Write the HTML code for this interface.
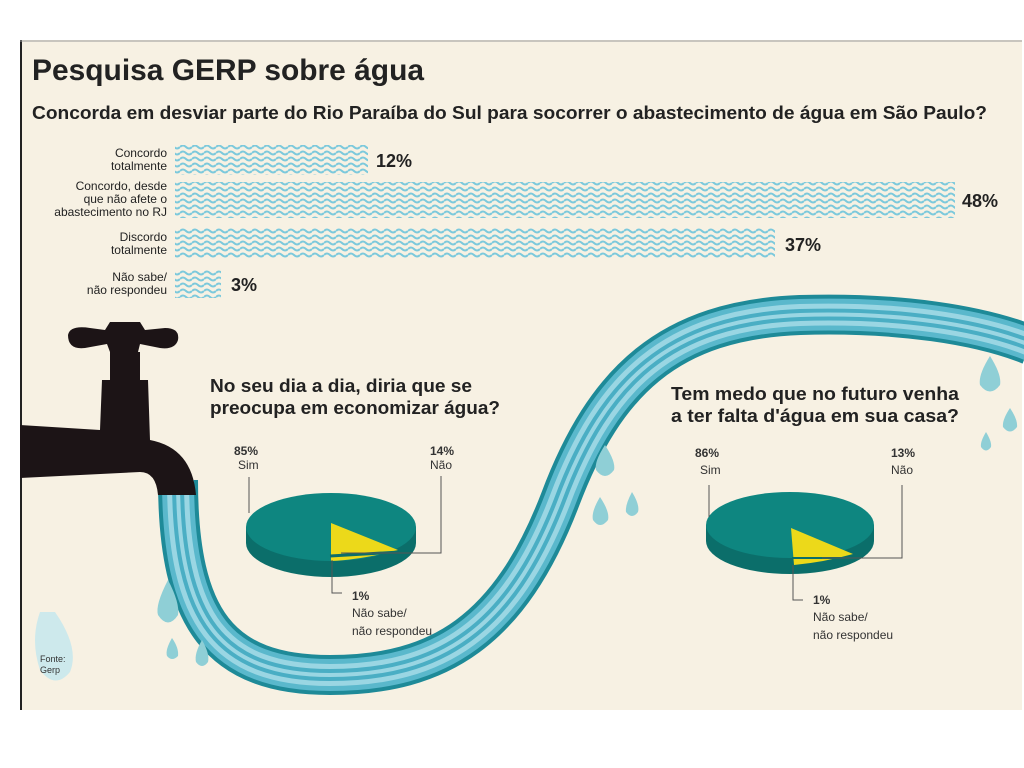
<!DOCTYPE html>
<html><head><meta charset="utf-8"><style>
body{margin:0;background:#fff;}
svg{display:block}
text{font-family:"Liberation Sans",sans-serif;}
</style></head><body>
<svg width="1024" height="768" viewBox="0 0 1024 768" xmlns="http://www.w3.org/2000/svg">
<defs>
<pattern id="wv" width="12" height="6" patternUnits="userSpaceOnUse">
<rect width="12" height="6" fill="#f7f1e3"/>
<path d="M0 3 Q3 0 6 3 T12 3" stroke="#7cc9dc" stroke-width="2" fill="none"/>
</pattern>
</defs>
<rect x="20" y="40" width="1002" height="670" fill="#f7f1e3"/>
<line x1="21" y1="40" x2="21" y2="710" stroke="#222" stroke-width="2"/>
<line x1="20" y1="41" x2="1022" y2="41" stroke="#999" stroke-width="1"/>
<text x="32" y="80" font-size="30" font-weight="bold" fill="#222" textLength="392" lengthAdjust="spacingAndGlyphs">Pesquisa GERP sobre água</text>
<text x="32" y="119" font-size="18" font-weight="bold" fill="#222" textLength="955" lengthAdjust="spacingAndGlyphs">Concorda em desviar parte do Rio Paraíba do Sul para socorrer o abastecimento de água em São Paulo?</text>
<g font-size="12" fill="#222" text-anchor="end">
<text x="167" y="157">Concordo</text><text x="167" y="170">totalmente</text>
<text x="167" y="190">Concordo, desde</text><text x="167" y="203">que não afete o</text><text x="167" y="216">abastecimento no RJ</text>
<text x="167" y="241">Discordo</text><text x="167" y="254">totalmente</text>
<text x="167" y="281">Não sabe/</text><text x="167" y="294">não respondeu</text>
</g>
<rect x="175" y="145" width="193" height="30" fill="url(#wv)"/>
<rect x="175" y="182" width="780" height="36" fill="url(#wv)"/>
<rect x="175" y="228" width="600" height="30" fill="url(#wv)"/>
<rect x="175" y="270" width="46" height="28" fill="url(#wv)"/>
<g font-size="18" font-weight="bold" fill="#222">
<text x="376" y="167">12%</text><text x="962" y="207">48%</text><text x="785" y="251">37%</text><text x="231" y="291">3%</text>
</g>
<!-- hose -->
<g fill="none">
<path id="h" d="M178 480 C178 620 220 675 330 675 C440 675 510 630 560 500 C605 380 670 320 800 315 C900 312 980 325 1030 345" stroke="#1e8a98" stroke-width="40"/>
<path d="M178 480 C178 620 220 675 330 675 C440 675 510 630 560 500 C605 380 670 320 800 315 C900 312 980 325 1030 345" stroke="#5ab8cc" stroke-width="32"/>
<path d="M178 480 C178 620 220 675 330 675 C440 675 510 630 560 500 C605 380 670 320 800 315 C900 312 980 325 1030 345" stroke="#9ad6e3" stroke-width="22"/>
<path d="M178 480 C178 620 220 675 330 675 C440 675 510 630 560 500 C605 380 670 320 800 315 C900 312 980 325 1030 345" stroke="#4aaec4" stroke-width="12"/>
<path d="M178 480 C178 620 220 675 330 675 C440 675 510 630 560 500 C605 380 670 320 800 315 C900 312 980 325 1030 345" stroke="#9ad6e3" stroke-width="4"/>
</g>
<!-- faucet -->
<g fill="#1c1416">
<path d="M68 335 Q70 325 90 328 L105 330 L110 322 L140 322 L145 330 L165 328 Q180 328 178 340 Q175 350 160 348 L140 344 L138 352 L110 352 L107 344 L85 348 Q68 350 68 335Z"/>
<rect x="110" y="352" width="30" height="28"/>
<path d="M102 380 L148 380 L150 440 Q192 448 196 495 L158 495 Q156 472 140 472 L20 478 L20 425 L100 430Z"/>
</g>
<!-- drops -->
<g fill="#8fcfd6">
<path d="M40 612 Q30 640 40 670 Q55 690 70 672 Q80 648 55 612Z" fill="#cde9ec"/>
<path d="M168 580 Q155 605 158 615 Q168 630 178 615 Q180 603 168 580Z"/>
<path d="M172 638 Q165 650 167 656 Q172 662 178 656 Q179 648 172 638Z"/>
<path d="M202 640 Q194 654 196 662 Q202 670 208 662 Q210 654 202 640Z"/>
<path d="M605 445 Q594 462 596 470 Q605 482 614 470 Q616 462 605 445Z"/>
<path d="M600 497 Q591 512 593 520 Q600 530 608 520 Q610 512 600 497Z"/>
<path d="M632 492 Q625 505 626 512 Q632 520 638 512 Q640 505 632 492Z"/>
<path d="M990 356 Q978 375 980 385 Q990 398 1000 385 Q1002 375 990 356Z"/>
<path d="M1010 408 Q1002 420 1003 427 Q1010 436 1017 427 Q1018 420 1010 408Z"/>
<path d="M986 432 Q980 442 981 447 Q986 454 991 447 Q992 442 986 432Z"/>
</g>
<text x="40" y="662" font-size="9" fill="#333">Fonte:</text><text x="40" y="673" font-size="9" fill="#333">Gerp</text>
<!-- questions -->
<g font-size="18" font-weight="bold" fill="#222">
<text x="210" y="392" textLength="262" lengthAdjust="spacingAndGlyphs">No seu dia a dia, diria que se</text>
<text x="210" y="414" textLength="290" lengthAdjust="spacingAndGlyphs">preocupa em economizar água?</text>
<text x="671" y="400" textLength="288" lengthAdjust="spacingAndGlyphs">Tem medo que no futuro venha</text>
<text x="671" y="422" textLength="288" lengthAdjust="spacingAndGlyphs">a ter falta d'água em sua casa?</text>
</g>
<!-- pie 1 -->
<g>
<path d="M246 527 L246 543 A85 34 0 0 0 416 543 L416 527Z" fill="#0b6e6a"/>
<ellipse cx="331" cy="527" rx="85" ry="34" fill="#0e8680"/>
<path d="M331 523 L331 561 Q360 560 398 550Z" fill="#ecd91a"/>
<path d="M330 556 L400 552" stroke="#0b6e6a" stroke-width="3"/>
</g>
<g font-size="12" fill="#333">
<text x="234" y="455" font-weight="bold">85%</text><text x="238" y="469">Sim</text>
<text x="430" y="455" font-weight="bold">14%</text><text x="430" y="469">Não</text>
<text x="352" y="600" font-weight="bold">1%</text><text x="352" y="617">Não sabe/</text><text x="352" y="635">não respondeu</text>
</g>
<path d="M249 477 L249 513 M341 553 L441 553 L441 476 M332 560 L332 593 L342 593" stroke="#555" fill="none" stroke-width="1"/>
<!-- pie 2 -->
<g>
<path d="M706 525 L706 541 A84 33 0 0 0 874 541 L874 525Z" fill="#0b6e6a"/>
<ellipse cx="790" cy="525" rx="84" ry="33" fill="#0e8680"/>
<path d="M791 528 L794 565 Q825 562 853 554Z" fill="#ecd91a"/>
<path d="M792 558 L855 558" stroke="#0b6e6a" stroke-width="2"/>
</g>
<g font-size="12" fill="#333">
<text x="695" y="457" font-weight="bold">86%</text><text x="700" y="474">Sim</text>
<text x="891" y="457" font-weight="bold">13%</text><text x="891" y="474">Não</text>
<text x="813" y="604" font-weight="bold">1%</text><text x="813" y="621">Não sabe/</text><text x="813" y="639">não respondeu</text>
</g>
<path d="M709 485 L709 517 M822 558 L902 558 L902 485 M793 565 L793 600 L803 600" stroke="#555" fill="none" stroke-width="1"/>
</svg>
</body></html>
